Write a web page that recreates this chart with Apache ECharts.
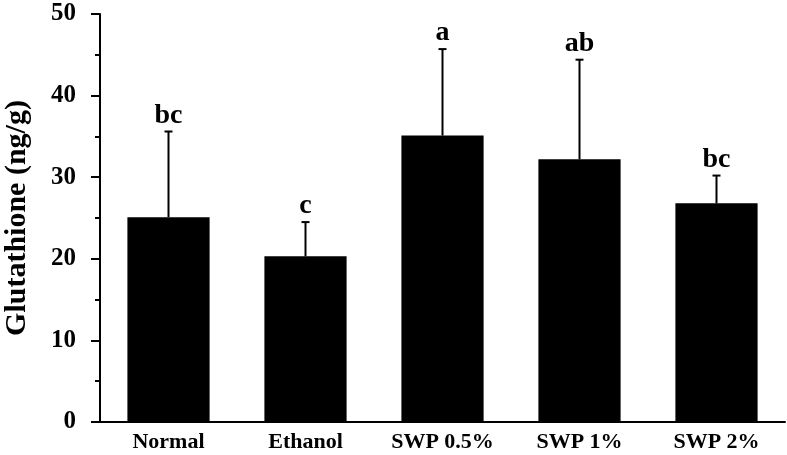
<!DOCTYPE html>
<html>
<head>
<meta charset="utf-8">
<script src="https://cdn.jsdelivr.net/npm/echarts@6/dist/echarts.min.js"></script>
<style>html,body{margin:0;padding:0;background:#fff}#c{width:787px;height:455px}</style>
</head>
<body>
<div id="c"></div>
<script>
const categories = ['Normal', 'Ethanol', 'SWP 0.5%', 'SWP 1%', 'SWP 2%'];
const means = [25.1, 20.3, 35.1, 32.2, 26.8];
const errors = [10.5, 4.2, 10.6, 12.2, 3.4];
const letters = ['bc', 'c', 'a', 'ab', 'bc'];
const yTicks = [0, 10, 20, 30, 40, 50];

const FONT = '"Liberation Serif", "Times New Roman", serif';
const chart = echarts.init(document.getElementById('c'), null, {renderer: 'canvas'});

const errData = means.map((m, i) => [i, m, m + errors[i], letters[i]]);

chart.setOption({
  animation: false,
  grid: {left: 100, right: 2, top: 14, bottom: 33, containLabel: false, outerBoundsMode: 'none'},
  xAxis: {
    type: 'category',
    data: categories,
    axisLine: {lineStyle: {color: '#000', width: 2}},
    axisTick: {show: false},
    axisLabel: {color: '#000', fontFamily: FONT, fontWeight: 'bold', fontSize: 22, margin: 9}
  },
  yAxis: [
    {
      type: 'value',
      min: yTicks[0], max: yTicks[yTicks.length - 1], interval: 10,
      name: 'Glutathione (ng/g)',
      nameLocation: 'middle',
      nameGap: 68,
      nameTextStyle: {color: '#000', fontFamily: FONT, fontWeight: 'bold', fontSize: 30},
      axisLine: {show: true, lineStyle: {color: '#000', width: 2}},
      axisTick: {show: true, inside: false, length: 9, lineStyle: {color: '#000', width: 2}},
      splitLine: {show: false},
      axisLabel: {color: '#000', fontFamily: FONT, fontWeight: 'bold', fontSize: 25, margin: 24},
      z: 3
    },
    {
      type: 'value',
      position: 'left',
      offset: 0,
      min: yTicks[0], max: yTicks[yTicks.length - 1], interval: 5,
      axisLine: {show: false},
      axisTick: {show: true, inside: false, length: 5, lineStyle: {color: '#000', width: 2}},
      axisLabel: {show: false},
      splitLine: {show: false},
      z: 2
    }
  ],
  series: [
    {
      type: 'bar',
      data: means,
      barWidth: '60%',
      itemStyle: {color: '#000'},
      z: 2
    },
    {
      type: 'custom',
      data: errData,
      z: 3,
      renderItem: function (params, api) {
        const i = api.value(0);
        const base = api.coord([i, api.value(1)]);
        const top = api.coord([i, api.value(2)]);
        const cap = 4;
        return {
          type: 'group',
          children: [
            {type: 'line', shape: {x1: base[0], y1: base[1], x2: top[0], y2: top[1]}, style: {stroke: '#000', lineWidth: 2}},
            {type: 'line', shape: {x1: top[0] - cap, y1: top[1], x2: top[0] + cap, y2: top[1]}, style: {stroke: '#000', lineWidth: 2}},
            {type: 'text', x: top[0], y: top[1] - 2, style: {text: letters[i], fill: '#000', font: 'bold 28px ' + FONT, textAlign: 'center', textVerticalAlign: 'bottom'}}
          ]
        };
      }
    }
  ]
});
</script>
</body>
</html>
